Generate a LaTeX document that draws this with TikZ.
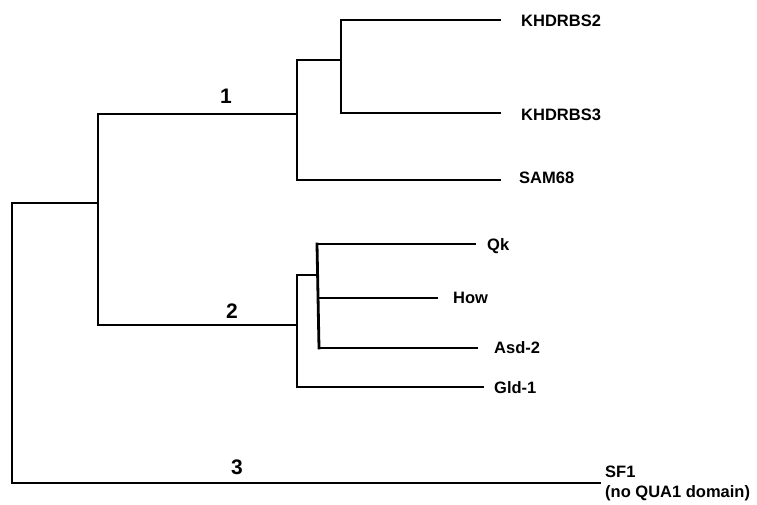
\documentclass[tikz,border=0pt]{standalone}
\usepackage{fontspec}
\setmainfont{Liberation Sans}
\begin{document}
\begin{tikzpicture}[x=1pt,y=-1pt,
  branch/.style={line width=2.8pt,line cap=rect,line join=miter},
  leaf/.style={anchor=west,font=\bfseries\fontsize{16.5}{20}\selectfont,inner sep=0pt},
  clade/.style={font=\bfseries\fontsize{21}{22}\selectfont,inner sep=0pt}]
\useasboundingbox (0,0) rectangle (757,504);
% internal points
\coordinate (r) at (12,203);
\coordinate (a) at (98,203);
\coordinate (c1) at (297,114);
\coordinate (c1s) at (341,60);
\coordinate (c2) at (297,325);
\coordinate (c2s) at (317,275);
% leaf ends
\coordinate (e1) at (500,20);
\coordinate (e2) at (500,113);
\coordinate (e3) at (500,180);
\coordinate (e4) at (475,244);
\coordinate (e5) at (437,298);
\coordinate (e6) at (477,348);
\coordinate (e7) at (483,387);
\coordinate (e8) at (600,483);
% labels
\node[leaf] (l1) at (521,21) {KHDRBS2};
\node[leaf] (l2) at (521,115) {KHDRBS3};
\node[leaf] (l3) at (519,178) {SAM68};
\node[leaf] (l4) at (487,246) {Qk};
\node[leaf] (l5) at (453,298) {How};
\node[leaf] (l6) at (494,348) {Asd-2};
\node[leaf] (l7) at (494,388) {Gld-1};
\node[leaf,align=left,anchor=north west] (l8) at (605,466) {SF1\\(no QUA1 domain)};
\node[clade] (n1) at (226,96) {1};
\node[clade] (n2) at (232,311) {2};
\node[clade] (n3) at (237,467) {3};
% tree
\draw[branch] (a) -- (r) |- (e8);
\draw[branch] (c1 -| a) -- (c1) (a |- c2) -- (c2);
\draw[branch] (a |- c1) -- (a |- c2);
\draw[branch] (c1 |- c1s) -- (c1 |- e3) -- (e3);
\draw[branch] (c1 |- c1s) -- (c1s);
\draw[branch] (c1s |- e1) -- (c1s |- e2);
\draw[branch] (c1s |- e1) -- (e1);
\draw[branch] (c1s |- e2) -- (e2);
\draw[branch] (c2 |- c2s) -- (c2 |- e7) -- (e7);
\draw[branch] (c2 |- c2s) -- (c2s);
\draw[branch] (c2s |- e4) -- (319,348);
\draw[branch] (c2s |- e4) -- (e4);
\draw[branch] (318,298) -- (e5);
\draw[branch] (319,348) -- (e6);
\end{tikzpicture}
\end{document}
